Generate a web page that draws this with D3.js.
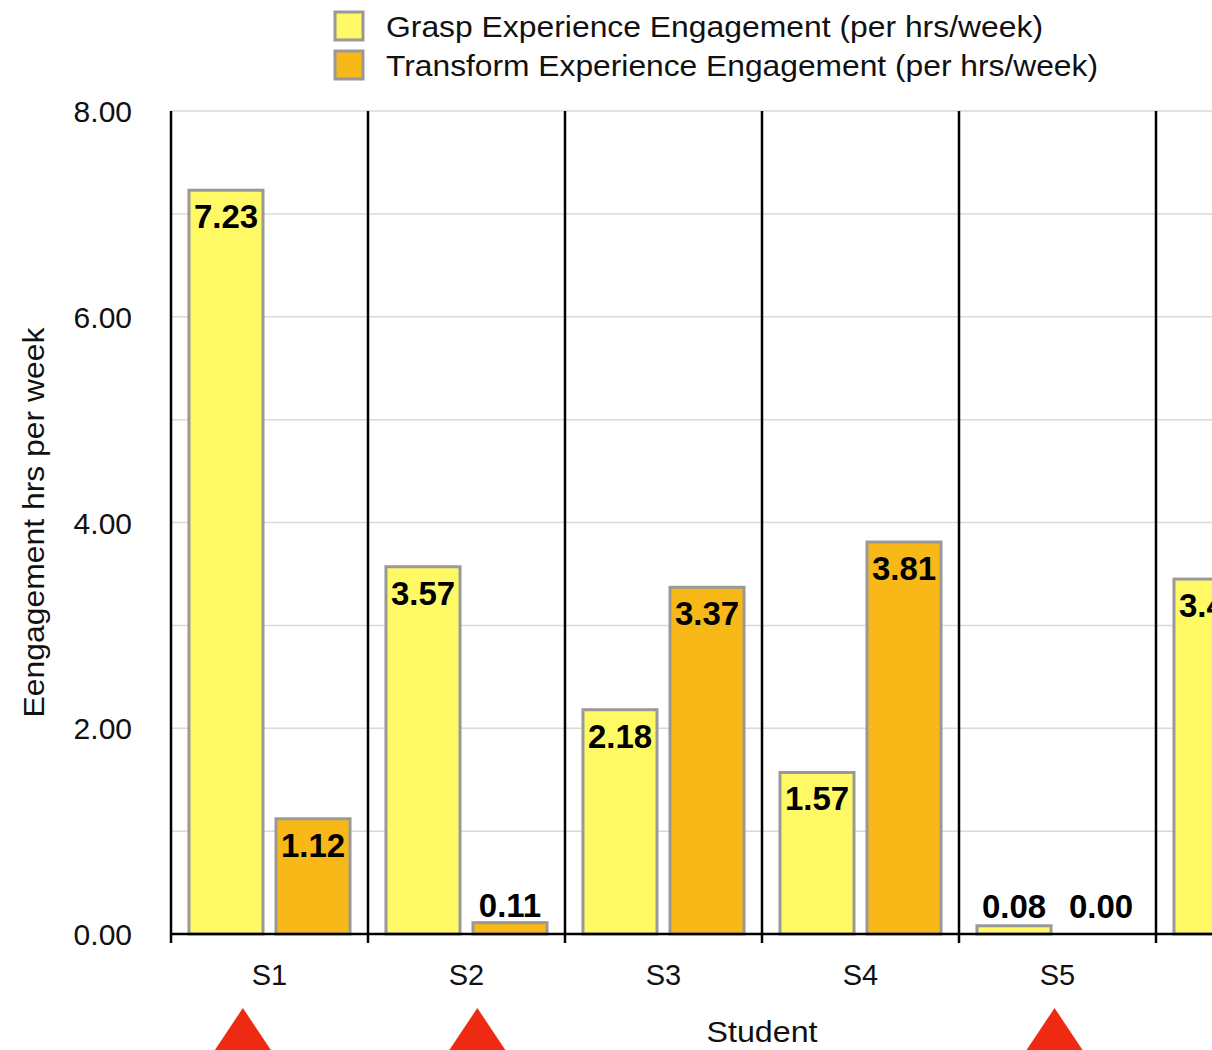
<!DOCTYPE html>
<html>
<head>
<meta charset="utf-8">
<script src="https://cdn.jsdelivr.net/npm/d3@7"></script>
<style>
  html, body { margin: 0; padding: 0; background: #fff; overflow: hidden; }
  svg { display: block; font-family: "Liberation Sans", Arial, sans-serif; }
</style>
</head>
<body>
<div id="chart_container"></div>
<script>
// Chart values
let students = ["S1", "S2", "S3", "S4", "S5", "S6"];
let grasp_values = [7.23, 3.57, 2.18, 1.57, 0.08, 3.45];
let transform_values = [1.12, 0.11, 3.37, 3.81, 0.00, null]; // S6 transform is off the picture
let series_names = ["Grasp Experience Engagement (per hrs/week)", "Transform Experience Engagement (per hrs/week)"];
let y_ticks = [0, 2, 4, 6, 8];
let flagged_students = ["S1", "S2", "S5"];
let flag_shift = [-0.135, 0.055, -0.015]; // fraction of band width

let width = 1212, height = 1050;
let margin = {left: 171, top: 111, bottom: 116};
let band = 197;
let colors = ["#fff966", "#f8b817"];

let svg = d3.select("#chart_container").append("svg")
    .attr("width", width)
    .attr("height", height);

let x = d3.scaleBand()
    .domain(students)
    .range([margin.left, margin.left + band * students.length])
    .paddingInner(0).paddingOuter(0);

let x_inner = d3.scaleBand()
    .domain([0, 1])
    .range([0, x.bandwidth()])
    .paddingInner(0.126)
    .paddingOuter(0.195);

let y = d3.scaleLinear()
    .domain([0, 8])
    .range([height - margin.bottom, margin.top]);

// Gridlines at every unit
svg.append("g")
    .selectAll("line")
    .data(d3.range(1, 9))
    .enter().append("line")
    .attr("x1", margin.left)
    .attr("x2", width)
    .attr("y1", d => y(d))
    .attr("y2", d => y(d))
    .attr("stroke", "#d9d9d9")
    .attr("stroke-width", 1.5);

// Y axis labels
svg.append("g")
    .selectAll("text")
    .data(y_ticks)
    .enter().append("text")
    .attr("x", 132)
    .attr("y", d => y(d) + 11)
    .attr("text-anchor", "end")
    .attr("font-size", "30px")
    .attr("fill", "#111")
    .text(d => d.toFixed(2));

// Bars
let rows = students.map((s, i) => ({student: s, values: [grasp_values[i], transform_values[i]]}));

let groups = svg.append("g")
    .selectAll("g")
    .data(rows)
    .enter().append("g")
    .attr("transform", d => "translate(" + x(d.student) + ",0)");

let cells = groups.selectAll("g")
    .data(d => d.values.map((v, k) => ({k: k, v: v})).filter(e => e.v !== null))
    .enter().append("g");

cells.filter(d => d.v > 0).append("rect")
    .attr("x", d => x_inner(d.k) + 1)
    .attr("width", x_inner.bandwidth() - 2)
    .attr("y", d => y(d.v))
    .attr("height", d => y(0) - y(d.v))
    .attr("fill", d => colors[d.k])
    .attr("stroke", "#999")
    .attr("stroke-width", 3);

cells.append("text")
    .attr("x", d => x_inner(d.k) + x_inner.bandwidth() / 2)
    .attr("y", d => {
        if (y(0) - y(d.v) > 50) return y(d.v) + 38;
        return Math.min(y(d.v) - 6, y(0) - 16);
    })
    .attr("text-anchor", "middle")
    .attr("font-size", "33px")
    .attr("font-weight", "bold")
    .attr("fill", "#000")
    .text(d => d.v.toFixed(2));

// Category separators and base axis
svg.append("g")
    .selectAll("line")
    .data(d3.range(students.length + 1))
    .enter().append("line")
    .attr("x1", i => margin.left + i * band)
    .attr("x2", i => margin.left + i * band)
    .attr("y1", y(8))
    .attr("y2", y(0) + 9)
    .attr("stroke", "#000")
    .attr("stroke-width", 2.5);

svg.append("line")
    .attr("x1", margin.left)
    .attr("x2", width)
    .attr("y1", y(0))
    .attr("y2", y(0))
    .attr("stroke", "#000")
    .attr("stroke-width", 2.5);

// Category labels
svg.append("g")
    .selectAll("text")
    .data(students)
    .enter().append("text")
    .attr("x", d => x(d) + x.bandwidth() / 2)
    .attr("y", 985)
    .attr("text-anchor", "middle")
    .attr("font-size", "29px")
    .attr("fill", "#111")
    .text(d => d);

// Axis titles
svg.append("text")
    .attr("x", margin.left + band * 3)
    .attr("y", 1042)
    .attr("text-anchor", "middle")
    .attr("font-size", "30px")
    .attr("textLength", 111)
    .attr("lengthAdjust", "spacingAndGlyphs")
    .attr("fill", "#111")
    .text("Student");

svg.append("text")
    .attr("transform", "translate(44," + y(4) + ") rotate(-90)")
    .attr("text-anchor", "middle")
    .attr("font-size", "29px")
    .attr("textLength", 390)
    .attr("lengthAdjust", "spacingAndGlyphs")
    .attr("fill", "#111")
    .text("Eengagement hrs per week");

// Red flag triangles under some students
svg.append("g")
    .selectAll("path")
    .data(flagged_students)
    .enter().append("path")
    .attr("d", (d, i) => {
        let cx = x(d) + x.bandwidth() / 2 + flag_shift[i] * x.bandwidth();
        return "M" + cx + ",1008 L" + (cx + 32) + ",1056 L" + (cx - 32) + ",1056 Z";
    })
    .attr("fill", "#ee2a12");

// Legend
let legend_lengths = [657, 712];
let legend = svg.append("g")
    .selectAll("g")
    .data(series_names)
    .enter().append("g")
    .attr("transform", (d, i) => "translate(335," + (12 + i * 39) + ")");

legend.append("rect")
    .attr("width", 28)
    .attr("height", 28)
    .attr("fill", (d, i) => colors[i])
    .attr("stroke", "#999")
    .attr("stroke-width", 3);

legend.append("text")
    .attr("x", 51)
    .attr("y", 25)
    .attr("font-size", "30px")
    .attr("textLength", (d, i) => legend_lengths[i])
    .attr("lengthAdjust", "spacingAndGlyphs")
    .attr("fill", "#111")
    .text(d => d);
</script>
</body>
</html>
